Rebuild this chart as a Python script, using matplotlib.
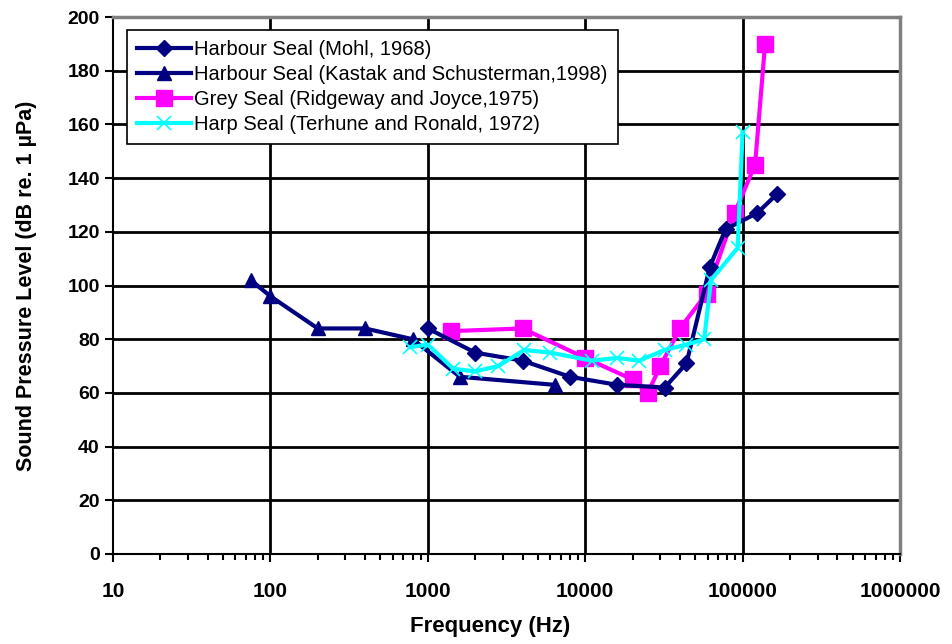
import matplotlib
matplotlib.use('Agg')
import matplotlib.pyplot as plt
import matplotlib.ticker as mtick

plt.rcParams['font.family'] = ['Liberation Sans', 'DejaVu Sans']

# harbour seal, Mohl 1968
mohl_f = [1000, 2000, 4000, 8000, 16000, 32000, 44000, 62000, 78000, 124000, 165000]
mohl_db = [84, 75, 72, 66, 63, 62, 71, 107, 121, 127, 134]

# harbour seal, Kastak and Schusterman 1998
kastak_f = [75, 100, 200, 400, 800, 1600, 6400]
kastak_db = [102, 96, 84, 84, 80, 66, 63]

# grey seal, Ridgeway and Joyce 1975
grey_f = [1400, 4000, 10000, 20000, 25000, 30000, 40000, 59000, 89000, 120000, 139000]
grey_db = [83, 84, 73, 65, 60, 70, 84, 97, 127, 145, 190]

# harp seal, Terhune and Ronald 1972
harp_f = [770, 1000, 1450, 2000, 2800, 4100, 6000, 11000, 16000, 22000, 32000, 44000,
          57000, 63000, 93000, 100000]
harp_db = [77, 78, 69, 68, 70, 76, 75, 72, 73, 72, 76, 78, 80, 102, 114, 157]

labels = ['Harbour Seal (Mohl, 1968)',
          'Harbour Seal (Kastak and Schusterman,1998)',
          'Grey Seal (Ridgeway and Joyce,1975)',
          'Harp Seal (Terhune and Ronald, 1972)']

navy = '#000080'
fig = plt.figure(figsize=(9.52, 6.44), dpi=100)
ax1 = fig.add_axes([113/952, 1 - 554/644, 787/952, 537/644])

ax1.plot(mohl_f, mohl_db, color=navy, lw=3, marker='D', ms=8.5, label=labels[0], zorder=4)
ax1.plot(kastak_f, kastak_db, color=navy, lw=3, marker='^', ms=10, label=labels[1], zorder=4)
ax1.plot(grey_f, grey_db, color='#ff00ff', lw=3, marker='s', ms=12, label=labels[2], zorder=3)
ax1.plot(harp_f, harp_db, color='#00ffff', lw=3, marker='x', ms=10, mew=1.2,
         label=labels[3], zorder=5)

ax1.set_xscale('log')
ax1.set_xlim(10, 1000000)
ax1.set_ylim(0, 200)
ax1.set_yticks(range(0, 201, 20))
ax1.xaxis.set_major_locator(mtick.LogLocator(base=10, numticks=10))
ax1.xaxis.set_minor_locator(mtick.LogLocator(base=10, subs=range(2, 10), numticks=20))
ax1.xaxis.set_major_formatter(mtick.FuncFormatter(lambda v, p: '%d' % round(v)))
ax1.xaxis.set_minor_formatter(mtick.NullFormatter())

for v in [100, 1000, 10000, 100000]:
    ax1.axvline(v, color='k', lw=2, zorder=1)
for v in range(20, 200, 20):
    ax1.axhline(v, color='k', lw=2, zorder=1)

for s in ['top', 'right']:
    ax1.spines[s].set_color('#808080')
    ax1.spines[s].set_linewidth(2.5)
for s in ['left', 'bottom']:
    ax1.spines[s].set_color('k')
    ax1.spines[s].set_linewidth(1.5)

ax1.tick_params(axis='both', which='major', direction='out', length=6, width=1.5,
                labelsize=14)
ax1.tick_params(axis='x', which='major', pad=14, labelsize=15)
ax1.tick_params(axis='x', which='minor', direction='out', length=4, width=1.5)
for t in ax1.get_xticklabels() + ax1.get_yticklabels():
    t.set_fontweight('bold')

ax1.set_xlabel('Frequency (Hz)', fontsize=16, fontweight='bold')
ax1.set_ylabel('Sound Pressure Level (dB re. 1 µPa)', fontsize=15.5, fontweight='bold')
ax1.xaxis.set_label_coords(0.479, -0.115)
ax1.yaxis.set_label_coords(-0.097, 0.5)

leg = ax1.legend(loc='upper left', bbox_to_anchor=(14/787, 1 - 13/537), borderaxespad=0,
                 fontsize=14.5, fancybox=False, framealpha=1, edgecolor='k',
                 handlelength=2.7, labelspacing=0.3, borderpad=0.5, handletextpad=0.15)
leg.get_frame().set_linewidth(1.2)
leg.set_zorder(10)

fig.savefig('out.png', dpi=100)
